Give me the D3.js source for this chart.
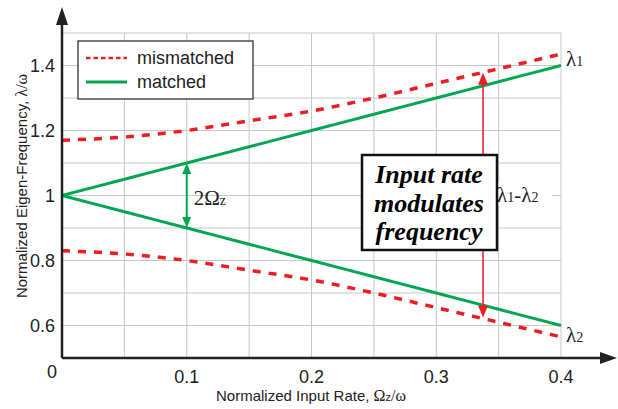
<!DOCTYPE html>
<html>
<head>
<meta charset="utf-8">
<script src="https://cdn.jsdelivr.net/npm/d3@7"></script>
<style>
  body { margin: 0; background: #fff; }
  svg { display: block; }
</style>
</head>
<body>
<div class="chart"></div>
<script>
// input rate values (x) and the eigen-frequency curves
const rates = [0, 0.05, 0.1, 0.15, 0.2, 0.25, 0.3, 0.35, 0.4];
const matchedUpper = [1.0, 1.05, 1.1, 1.15, 1.2, 1.25, 1.3, 1.35, 1.4];
const matchedLower = [1.0, 0.95, 0.9, 0.85, 0.8, 0.75, 0.7, 0.65, 0.6];
const mismatchedUpper = [1.17, 1.18, 1.2, 1.23, 1.26, 1.3, 1.345, 1.39, 1.435];
const mismatchedLower = [0.83, 0.82, 0.8, 0.77, 0.74, 0.7, 0.655, 0.61, 0.565];

const yTicks = [0.6, 0.8, 1.0, 1.2, 1.4];
const xTicks = [0.1, 0.2, 0.3, 0.4];
const legendLabels = ['mismatched', 'matched'];

// annotation arrows: [x, from, to]
const splitArrow = [0.1, 1.1, 0.9];
const gapArrow = [0.3375, 1.378, 0.625];

const red = '#ee1c24', green = '#00a651';
const width = 618, height = 409;
const svg = d3.select('.chart').append('svg')
  .attr('width', width).attr('height', height);

const x = d3.scaleLinear().domain([0, 0.4]).range([62, 561]);
const y = d3.scaleLinear().domain([0.5, 1.5]).range([358, 33]);

const sans = 'Liberation Sans, Arial, sans-serif';
const serif = 'Liberation Serif, Times New Roman, serif';

// grid
const grid = svg.append('g').attr('stroke', '#c8c8c8').attr('stroke-width', 1);
grid.selectAll('line.v').data(d3.range(1, 9).map(i => i * 0.05))
  .join('line').attr('class', 'v')
  .attr('x1', d => x(d)).attr('x2', d => x(d))
  .attr('y1', y(1.5)).attr('y2', y(0.5));
grid.selectAll('line.h').data(d3.range(0, 11).map(i => 0.5 + i * 0.1))
  .join('line').attr('class', 'h')
  .attr('x1', x(0)).attr('x2', x(0.4))
  .attr('y1', d => y(d)).attr('y2', d => y(d));

// curves
const line = d3.line().x((d, i) => x(rates[i])).y(d => y(d)).curve(d3.curveMonotoneX);
const curves = [
  {v: mismatchedUpper, c: red, dash: '8,8'},
  {v: mismatchedLower, c: red, dash: '8,8'},
  {v: matchedUpper, c: green, dash: null},
  {v: matchedLower, c: green, dash: null}
];
svg.append('g').selectAll('path').data(curves).join('path')
  .attr('d', d => line(d.v))
  .attr('fill', 'none')
  .attr('stroke', d => d.c)
  .attr('stroke-width', d => d.dash ? 3.5 : 3)
  .attr('stroke-dasharray', d => d.dash);

// double arrows
function doubleArrow(a, color, sw, head) {
  const g = svg.append('g');
  const x0 = x(a[0]), yTop = y(a[1]), yBot = y(a[2]);
  g.append('line').attr('x1', x0).attr('x2', x0)
    .attr('y1', yTop + head[1] - 1).attr('y2', yBot - head[1] + 1)
    .attr('stroke', color).attr('stroke-width', sw);
  g.append('path').attr('fill', color)
    .attr('d', `M${x0},${yTop} L${x0 - head[0]},${yTop + head[1]} L${x0 + head[0]},${yTop + head[1]} Z`);
  g.append('path').attr('fill', color)
    .attr('d', `M${x0},${yBot} L${x0 - head[0]},${yBot - head[1]} L${x0 + head[0]},${yBot - head[1]} Z`);
}
doubleArrow(splitArrow, green, 2, [4.5, 11]);
doubleArrow(gapArrow, red, 1.5, [5, 12]);

// 2Ωz label
const lab = svg.append('text').attr('x', x(0.1) + 7).attr('y', y(1.0) + 9)
  .attr('font-family', serif).attr('font-size', 21).attr('fill', '#222');
lab.append('tspan').text('2Ω');
lab.append('tspan').attr('font-size', 14).text('z');

// λ1 - λ2 label with white backing
const gapLabel = svg.append('g');
gapLabel.append('rect').attr('x', 496).attr('y', y(1.0) - 14)
  .attr('width', 56).attr('height', 24).attr('fill', '#fff');
const gt = gapLabel.append('text').attr('x', 497).attr('y', y(1.0) + 6)
  .attr('font-family', serif).attr('font-size', 21).attr('fill', '#222');
gt.append('tspan').text('λ');
gt.append('tspan').attr('font-size', 14).text('1');
gt.append('tspan').text('-λ');
gt.append('tspan').attr('font-size', 14).text('2');

// curve end labels
const ends = [['λ', '1', matchedUpper[8] + 0.02], ['λ', '2', matchedLower[8] - 0.03]];
ends.forEach(e => {
  const t = svg.append('text').attr('x', x(0.4) + 5).attr('y', y(e[2]) + 7)
    .attr('font-family', serif).attr('font-size', 21).attr('fill', '#222');
  t.append('tspan').text(e[0]);
  t.append('tspan').attr('font-size', 14).text(e[1]);
});

// text box
svg.append('rect').attr('x', 362).attr('y', 155).attr('width', 135).attr('height', 95)
  .attr('fill', '#fff').attr('stroke', '#111').attr('stroke-width', 2.5);
svg.append('text').attr('font-family', serif).attr('font-size', 26)
  .attr('font-weight', 'bold').attr('font-style', 'italic').attr('text-anchor', 'middle')
  .selectAll('tspan').data(['Input rate', 'modulates', 'frequency']).join('tspan')
  .attr('x', 429).attr('y', (d, i) => 183 + i * 28.5).text(d => d);

// axes
const axis = svg.append('g').attr('stroke', '#222').attr('stroke-width', 2.5);
axis.append('line').attr('x1', x(0)).attr('x2', 606).attr('y1', y(0.5)).attr('y2', y(0.5));
axis.append('line').attr('x1', x(0)).attr('x2', x(0)).attr('y1', y(0.5)).attr('y2', 20);
svg.append('path').attr('fill', '#222')
  .attr('d', `M617,${y(0.5)} L600,${y(0.5) - 6} L600,${y(0.5) + 6} Z`);
svg.append('path').attr('fill', '#222')
  .attr('d', `M${x(0)},7 L${x(0) - 6},25 L${x(0) + 6},25 Z`);

// tick labels
svg.append('g').attr('font-family', sans).attr('font-size', 18).attr('fill', '#222')
  .attr('text-anchor', 'end')
  .selectAll('text').data(yTicks).join('text')
  .attr('x', 55).attr('y', d => y(d) + 6)
  .text(d => d3.format('~g')(d));
svg.append('g').attr('font-family', sans).attr('font-size', 18).attr('fill', '#222')
  .attr('text-anchor', 'middle')
  .selectAll('text').data(xTicks).join('text')
  .attr('x', d => x(d)).attr('y', 383)
  .text(d => d3.format('~g')(d));
svg.append('text').attr('x', 52).attr('y', 378).attr('text-anchor', 'middle')
  .attr('font-family', sans).attr('font-size', 18).attr('fill', '#222').text('0');

// axis titles
const xt = svg.append('text').attr('x', 311).attr('y', 401).attr('text-anchor', 'middle')
  .attr('font-family', sans).attr('font-size', 15).attr('fill', '#222');
xt.append('tspan').text('Normalized Input Rate, ');
xt.append('tspan').attr('font-family', serif).attr('font-size', 16).text('Ω');
xt.append('tspan').attr('font-size', 11).text('z');
xt.append('tspan').attr('font-family', serif).attr('font-size', 16).text('/ω');

const yt = svg.append('text').attr('transform', 'translate(27,186) rotate(-90)')
  .attr('text-anchor', 'middle')
  .attr('font-family', sans).attr('font-size', 15).attr('fill', '#222');
yt.append('tspan').text('Normalized Eigen-Frequency, ');
yt.append('tspan').attr('font-family', serif).attr('font-size', 16).text('λ/ω');

// legend
const legend = svg.append('g');
legend.append('rect').attr('x', 78).attr('y', 41).attr('width', 175).attr('height', 58)
  .attr('fill', '#fff').attr('stroke', '#333').attr('stroke-width', 1.3);
legendLabels.forEach((name, i) => {
  const cy = 58 + i * 24;
  legend.append('line').attr('x1', 86).attr('x2', 127).attr('y1', cy).attr('y2', cy)
    .attr('stroke', i === 0 ? red : green).attr('stroke-width', i === 0 ? 2.5 : 3)
    .attr('stroke-dasharray', i === 0 ? '4.5,3' : null);
  legend.append('text').attr('x', 137).attr('y', cy + 6)
    .attr('font-family', sans).attr('font-size', 18).attr('fill', '#222').text(name);
});
</script>
</body>
</html>
